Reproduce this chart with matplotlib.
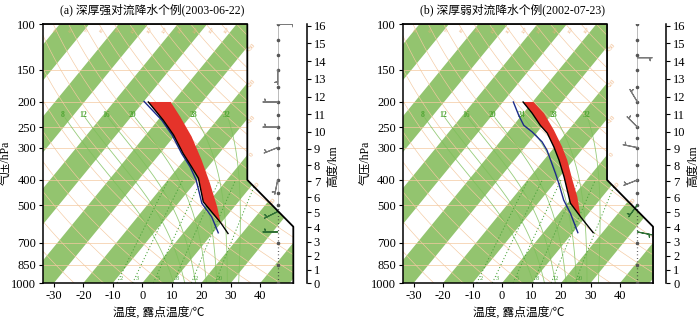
import numpy as np
import matplotlib.pyplot as plt
from matplotlib.patches import Polygon

plt.rcParams['font.family'] = ['Liberation Serif', 'Noto Sans CJK SC']
plt.rcParams['axes.unicode_minus'] = False

SKEW = 72.0                       # degC shift per decade of pressure
X_LEFT, X_RIGHT, X_TOP = -33.7, 51.2, 35.6
X_BARB = 45.9

titles = ['(a) 深厚强对流降水个例(2003-06-22)', '(b) 深厚弱对流降水个例(2002-07-23)']

# (a) 2003-06-22 : temperature, dew point, lifted parcel (hPa, degC)
p_t_a = [644, 585, 486, 394, 356, 316, 268, 235, 200]
t_a = [15.3, 9.8, -1.9, -10.1, -15.6, -22.2, -30.6, -38.2, -48.3]
p_td_a = [640, 555, 492, 400, 356, 316, 268, 235, 199]
td_a = [11.8, 5.1, -2.0, -10.4, -16.1, -22.7, -31.1, -38.7, -49.9]
p_parcel_a = [585, 508, 412, 335, 272, 228, 200]
parcel_a = [9.8, 4.2, -4.8, -14.1, -24.0, -33.4, -40.7]

# (b) 2002-07-23
p_t_b = [639, 555, 492, 389, 335, 298, 264, 246, 221, 200]
t_b = [16.9, 8.2, 1.0, -8.5, -14.9, -20.3, -26.3, -30.9, -37.0, -43.2]
p_td_b = [639, 538, 478, 412, 377, 307, 285, 261, 246, 225, 200]
td_b = [11.7, 3.8, -2.2, -8.5, -12.4, -21.7, -25.7, -31.8, -36.5, -41.0, -46.5]
p_parcel_b = [555, 464, 400, 335, 298, 257, 221, 200]
parcel_b = [8.2, 1.5, -4.8, -12.1, -17.5, -24.9, -33.0, -39.7]

# wind barbs
barb_p_a = [100, 150, 200, 250, 300, 400, 530, 635]
barb_u_a = [-10, 0, 5, 5, 5, 1, 4, 5]
barb_v_a = [0, 5, 0, 0, 2, 5, 2, 0]
barb_p_b = [100, 135, 200, 250, 300, 400, 500, 635]
barb_u_b = [-4, -5, 3, 4, 5, 5, 3, -5]
barb_v_b = [-4, 0, -5, -4, -1, 2, 4, 1]
dot_levels = [100, 115, 132, 150, 175, 200, 225, 250, 275, 300, 350, 400, 450, 500, 700, 850, 1000]

p_ticks = [100, 150, 200, 250, 300, 400, 500, 700, 850, 1000]
t_ticks = [-30, -20, -10, 0, 10, 20, 30, 40]
z_ticks = list(range(0, 17))
band_starts = list(range(-140, 60, 20))
theta_list = list(range(250, 500, 10))
# moist adiabats: label text and the temperature where each label sits (224 hPa)
moist_labels = [8, 12, 16, 20, 24, 28, 32]
moist_label_t = [-73.7, -66.9, -59.1, -50.0, -40.1, -29.3, -18.1]
MOIST_P = 224
mixr_list = [2, 3, 5, 8, 12, 20]
iso_labels = [-30, -20, -10, 0, 10, 20]

ORANGE = '#f4c9a0'
GREEN_BAND = '#93c46f'


def skx(t, p):
    return np.asarray(t, float) + SKEW * np.log10(1000.0 / np.asarray(p, float))


def std_pressure(z_km):
    z = np.asarray(z_km, float) * 1000.0
    p = 1000.0 * (1 - 0.0065 * np.minimum(z, 11000) / 288.15) ** 5.2559
    return np.where(z > 11000, p * np.exp(-(z - 11000) / 6341.6), p)


def moist_adiabat(t0, pres):
    Rd, cp, Lv, eps = 287.04, 1005.7, 2.501e6, 0.622

    def f(T, p):
        es = 6.112 * np.exp(17.67 * (T - 273.15) / (T - 29.65))
        rs = eps * es / (p - es)
        return (Rd * T + Lv * rs) / (cp + Lv * Lv * rs * eps / (Rd * T * T)) / p

    T = t0 + 273.15
    out = [T]
    for p0, p1 in zip(pres[:-1], pres[1:]):
        k1 = f(T, p0)
        k2 = f(T + k1 * (p1 - p0), p1)
        T = T + 0.5 * (k1 + k2) * (p1 - p0)
        out.append(T)
    return np.array(out) - 273.15


def boundary_x(p):
    return np.interp(np.log(p), np.log([100, 400, 606, 1000]), [X_TOP, X_TOP, X_RIGHT, X_RIGHT])


def draw_panel(ax, title, p_t, t, p_td, td, p_par, par, bp, bu, bv):
    ax.set_yscale('log')
    ax.set_xlim(X_LEFT, X_RIGHT)
    ax.set_ylim(1000, 100)
    clip = Polygon([(X_LEFT, 100), (X_TOP, 100), (X_TOP, 400), (X_RIGHT, 606),
                    (X_RIGHT, 1000), (X_LEFT, 1000)], closed=True, transform=ax.transData,
                   facecolor='none', edgecolor='none')

    # green isotherm bands, 10 degC wide
    for t0 in band_starts:
        band = Polygon([(t0, 1000), (t0 + 10, 1000), (t0 + 10 + SKEW, 100), (t0 + SKEW, 100)],
                       closed=True, facecolor=GREEN_BAND, edgecolor='none', zorder=1)
        ax.add_patch(band)
        band.set_clip_path(clip)

    pp = np.geomspace(1000, 100, 200)
    for p in p_ticks:
        ln, = ax.plot([X_LEFT, X_RIGHT], [p, p], color=ORANGE, lw=0.5, zorder=2)
        ln.set_clip_path(clip)
    for th in theta_list:
        tt = th * (pp / 1000.0) ** 0.2857 - 273.15
        ln, = ax.plot(skx(tt, pp), pp, color=ORANGE, lw=0.45, zorder=2)
        ln.set_clip_path(clip)
        xl = skx(th * 0.106 ** 0.2857 - 273.15, 106)
        if X_LEFT + 1 < xl < X_TOP - 2:
            ax.text(xl, 106, str(th - 273), fontsize=3.5, color='#eeb07a', rotation=55,
                    ha='center', va='center', zorder=3)

    pm = np.linspace(MOIST_P + 6, 1000, 300)
    for lab, tl in zip(moist_labels, moist_label_t):
        tm = moist_adiabat(tl, np.r_[MOIST_P, pm])[1:]
        ln, = ax.plot(skx(tm, pm), pm, color='#7dbf5a', lw=0.6, alpha=0.8, zorder=2)
        ln.set_clip_path(clip)
        ax.text(skx(tl, MOIST_P), MOIST_P, str(lab), fontsize=5.5, color='#4fa532',
                fontweight='bold', ha='center', va='center', zorder=3)

    pw = np.geomspace(1000, 400, 100)
    for w in mixr_list:
        e = w / 1000.0 * pw / (0.622 + w / 1000.0)
        lg = np.log(e / 6.112)
        tdw = 243.5 * lg / (17.67 - lg)
        ln, = ax.plot(skx(tdw, pw), pw, color='#4aa33a', lw=0.7, ls=(0, (1.2, 2.2)), zorder=2)
        ln.set_clip_path(clip)
        ax.text(skx(tdw[0], 1000) + 1.5, 985, str(w), fontsize=4.5, color='#4aa33a',
                ha='center', va='bottom', zorder=3)

    # isotherm labels outside the right edge
    pg = np.geomspace(100, 1000, 3000)
    for ti in iso_labels:
        diff = skx(ti, pg) - boundary_x(pg)
        i = np.argmax(diff < 0)
        ax.text(boundary_x(pg[i]) + 1.6, pg[i], str(ti), fontsize=5, color='#eeb07a',
                rotation=50, ha='center', va='center', clip_on=False)

    # CAPE area between environment and lifted parcel
    env_top = [(skx(tv, pv), pv) for pv, tv in zip(p_t, t) if pv <= p_par[0]]
    par_pts = [(skx(tv, pv), pv) for pv, tv in zip(p_par, par)]
    ax.add_patch(Polygon(env_top + par_pts[::-1], closed=True, facecolor='#e5332a',
                         edgecolor='none', zorder=4))
    ax.plot(skx(td, p_td), p_td, color='#1c2a8a', lw=1.0, zorder=5)
    ax.plot(skx(t, p_t), p_t, color='black', lw=1.0, zorder=5)

    # wind column
    ax.plot([X_BARB, X_BARB], [100, 500], color='#b0b0b0', lw=0.6, zorder=3)
    ax.plot([X_BARB, X_BARB], [500, 1000], color='#333333', lw=0.9, ls=(0, (0.6, 2.2)), zorder=3)
    ax.scatter([X_BARB] * len(dot_levels), dot_levels, s=2.5, color='#555555', zorder=4)
    n = len(bp)
    cols = ['#7a7a7a'] * (n - 2) + ['#2f6f35'] * 2
    ax.barbs([X_BARB] * n, bp, bu, bv, color=cols, length=4.6, linewidth=0.8, zorder=5,
             sizes=dict(emptybarb=0.08))

    # frame
    for s in ['top', 'right']:
        ax.spines[s].set_visible(False)
    for s in ['left', 'bottom']:
        ax.spines[s].set_linewidth(1.1)
    ax.plot([X_LEFT, X_TOP, X_TOP, X_RIGHT, X_RIGHT], [100, 100, 400, 606, 1000],
            color='black', lw=1.3, clip_on=False, zorder=6)

    ax.set_yticks(p_ticks)
    ax.set_yticklabels([str(p) for p in p_ticks], fontsize=9)
    ax.minorticks_off()
    ax.set_xticks(t_ticks)
    ax.set_xticklabels([str(v) for v in t_ticks], fontsize=9)
    ax.tick_params(direction='out', length=3, width=0.8, pad=2)
    ax.set_ylabel('气压/hPa', fontsize=8.5)
    ax.yaxis.set_label_coords(-0.122, 0.463)
    ax.set_xlabel('温度, 露点温度/℃', fontsize=8.5)
    ax.xaxis.set_label_coords(0.462, -0.092)
    ax.text(0.437, 1.055, title, transform=ax.transAxes, ha='center', va='center', fontsize=8.5)

    # height axis
    tw = ax.twinx()
    tw.set_yscale('log')
    tw.set_ylim(1000, 100)
    for s in ['left', 'top', 'bottom']:
        tw.spines[s].set_visible(False)
    tw.spines['right'].set_position(('axes', 1.0535))
    tw.spines['right'].set_linewidth(1.1)
    tw.set_yticks(std_pressure(z_ticks))
    tw.set_yticklabels([str(z) for z in z_ticks], fontsize=9)
    tw.minorticks_off()
    tw.tick_params(direction='out', length=3, width=0.8, pad=2)
    tw.set_ylabel('高度/km', fontsize=8.5)
    tw.yaxis.set_label_coords(1.137, 0.45)


fig = plt.figure(figsize=(7, 3.22), dpi=100)
ax_a = fig.add_axes([0.0614, 0.1211, 0.3576, 0.8043])
ax_b = fig.add_axes([0.5753, 0.1211, 0.3576, 0.8043])

draw_panel(ax_a, titles[0], p_t_a, t_a, p_td_a, td_a, p_parcel_a, parcel_a,
           barb_p_a, barb_u_a, barb_v_a)
draw_panel(ax_b, titles[1], p_t_b, t_b, p_td_b, td_b, p_parcel_b, parcel_b,
           barb_p_b, barb_u_b, barb_v_b)

fig.savefig('out.png', dpi=100)
